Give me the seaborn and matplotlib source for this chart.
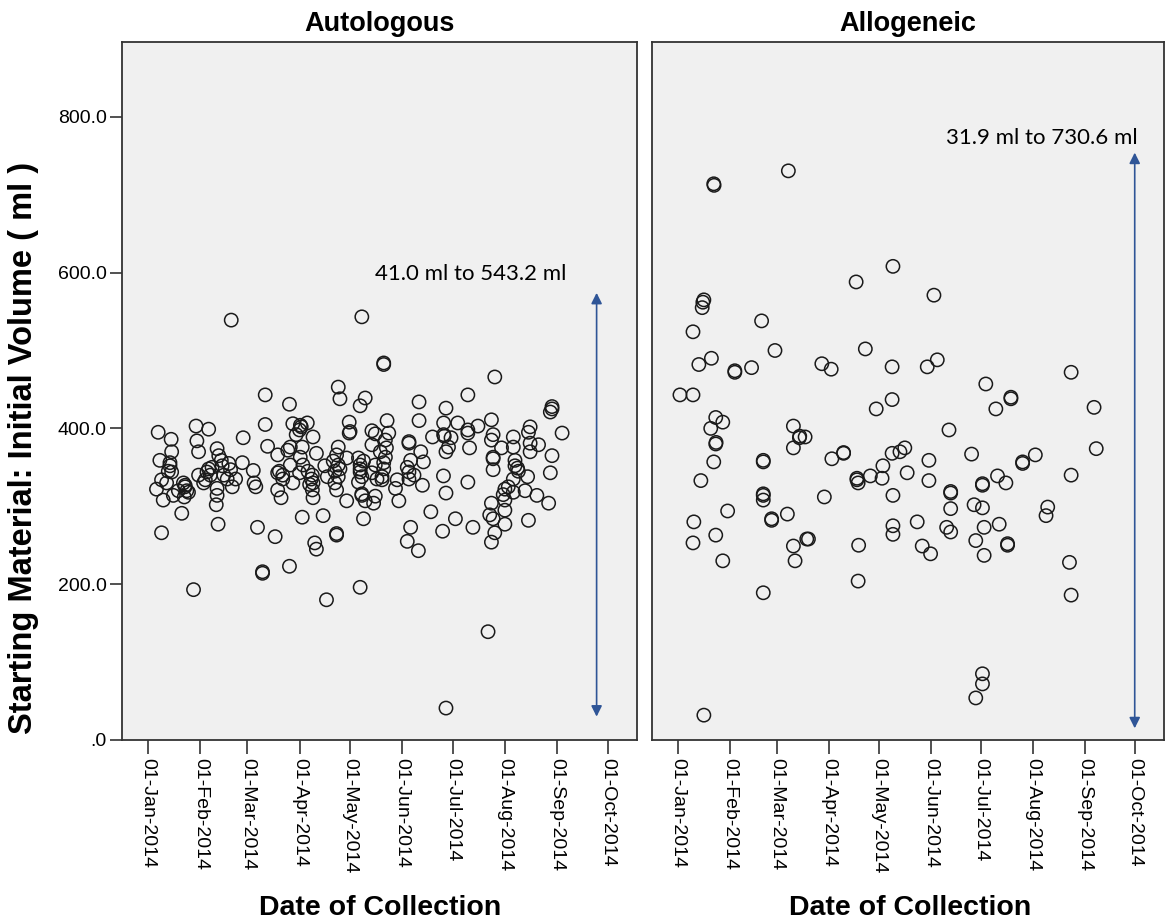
import numpy as np
import pandas as pd
import matplotlib
matplotlib.use("Agg")
import matplotlib.pyplot as plt
import matplotlib.dates as mdates
import seaborn as sns

# ---- data (days after 01-Jan-2014, volume in ml) ----
auto_days = [49.4, 69.6, 84, 6, 28.5, 36, 13.7, 69.6, 56.5, 29, 14, 30, 41, 7, 13, 71, 77, 83, 43.5, 35,
             49, 56, 62.5, 14, 8, 22, 22, 5, 9, 15, 21.5, 34, 41, 50, 41, 63, 64, 77, 80, 77,
             79, 40.5, 20, 8, 41.6, 65, 75.5, 84, 68, 68, 27, 38, 45, 52, 30, 18, 11, 24,
             13, 12, 21, 23, 36, 37, 44, 47, 48, 42, 33,
             127, 140, 140, 113, 114, 129, 126, 161, 161, 142, 86, 90.5, 91, 94.6, 119.5, 119.5, 120, 133, 135, 143,
             98, 169, 155, 155, 84.5, 91.6, 113, 133, 141.6, 162, 90.4, 100, 112, 141, 156, 163.6, 84.5, 92, 105, 113,
             126, 135, 140, 97.6, 90, 106.5, 113, 126, 127, 133, 139, 155, 155, 86, 163, 98, 111, 125, 136, 139,
             148, 147, 97.6, 112, 127, 127, 98, 118, 129, 135, 134, 149, 168, 91.6, 104, 128, 156, 154, 160.6, 112,
             112, 99, 100, 126, 106,
             90, 88, 95, 97, 96, 111, 114, 110, 118, 78, 80,
             126, 128, 125, 138, 140, 141, 154, 158,
             206, 190, 240, 240, 239, 177, 175.6, 184, 196, 204, 190, 190, 175.6, 176, 246, 227, 226, 217, 204, 210,
             217, 227, 232, 227, 191, 178.5, 177, 240, 205, 205, 218, 219.5, 205, 239, 175.5, 217, 225.5, 190, 212, 217,
             224, 231, 177, 238, 204, 212, 212, 203, 205, 212, 226, 182.6, 193, 175, 206, 204, 202, 177,
             218, 220, 214, 211, 205, 180]
auto_vals = [539, 443, 431, 395, 403, 399, 386, 405, 388, 384, 370, 370, 374, 359, 356, 377, 366, 372, 359, 344,
             347, 356, 346, 344, 334, 325, 327, 322, 308, 314, 312, 334, 323, 325, 314, 330, 325, 343, 340, 321,
             311, 302, 291, 266, 277, 273, 261, 223, 214, 216, 193, 350, 340, 335, 340, 320, 330, 318,
             352, 345, 330, 320, 348, 340, 352, 335, 355, 365, 330,
             543.2, 482, 484, 453, 438, 439, 429, 434, 410, 410, 406, 404, 402, 407, 408, 394, 396, 397, 393, 394,
             389, 389, 381, 383, 376, 376, 376, 379, 375, 370, 363, 368, 366, 363, 359, 357, 353, 353, 352, 353,
             353, 353, 356, 340, 343, 338, 338, 344, 338, 343, 338, 344, 335, 330, 327, 330, 330, 331, 335, 334,
             334, 323, 321, 321, 314, 316, 311, 307, 307, 313, 304, 307, 293, 286, 288, 284, 273, 255, 243, 263,
             265, 253, 245, 196, 180,
             398, 392, 345, 335, 328, 345, 348, 358, 362, 345, 335,
             348, 358, 362, 370, 348, 385, 350, 340,
             466, 443, 428, 425, 421, 426, 407, 407, 403, 411, 398, 394, 392, 390, 394, 402, 395, 389, 385, 375,
             376, 381, 379, 370, 375, 376, 370, 365, 363, 361, 359, 349, 347, 343, 339, 335, 338, 331, 322, 318,
             320, 314, 317, 304, 304, 308, 295, 289, 284, 277, 282, 284, 273, 268, 266, 254, 139, 41.0,
             352, 345, 325, 315, 392, 388]

allo_days = [21.4, 21.6, 66, 14.9, 15.5, 14.5, 9, 50, 58, 12.5, 20, 34, 34, 44, 1.2, 9, 22.6, 19.6, 26.8, 22.6,
             22.8, 21.4, 69, 72.6, 72.8, 69, 51, 51, 13.7, 51, 51, 51, 29.7, 56, 56, 65.4, 9.5, 9, 22.6, 26.8,
             77, 69, 70, 51, 15.5,
             128.5, 106.5, 153, 112, 86, 91.6, 128, 149, 155, 128, 118.5, 162, 76, 99, 99, 92, 128, 135.6, 132.7, 150,
             122.5, 137, 150, 107, 107, 107.7, 115, 122, 128.5, 87.5, 163, 163, 163, 128.5, 128.5, 143, 160.6, 163, 78, 108,
             146, 151, 107.7,
             235, 184, 199, 199, 190, 248.7, 175.5, 250, 206, 206, 213.6, 235, 191, 196, 182, 182, 177, 182, 221, 220,
             183, 192, 178, 197, 197, 183, 234, 235, 182, 182, 178]
allo_vals = [714, 712, 730.6, 562, 565, 555, 524, 538, 500, 482, 490, 472, 474, 478, 443, 443, 414, 400, 408, 380,
             382, 357, 403, 388, 390, 375, 357, 359, 333, 314, 316, 308, 294, 282, 284, 290, 280, 253, 263, 230,
             258, 249, 230, 189, 31.9,
             608, 588, 571, 502, 483, 476, 479, 479, 488, 437, 425, 398, 389, 368, 369, 361, 368, 375, 370, 359,
             352, 343, 333, 336, 334, 330, 339, 336, 314, 312, 317, 319, 297, 275, 264, 280, 273, 267, 258, 250,
             249, 239, 204,
             472, 457, 438, 440, 425, 427, 367, 374, 357, 355, 366, 340, 339, 330, 327, 329, 302, 298, 299, 288,
             273, 277, 256, 252, 250, 237, 228, 186, 85, 72, 54]

panel_titles = ["Autologous", "Allogeneic"]
range_texts = ["41.0 ml to 543.2 ml", "31.9 ml to 730.6 ml"]
tick_dates = ["2014-01-01", "2014-02-01", "2014-03-01", "2014-04-01", "2014-05-01",
              "2014-06-01", "2014-07-01", "2014-08-01", "2014-09-01", "2014-10-01"]
y_ticks = [0, 200, 400, 600, 800]
y_tick_labels = [".0", "200.0", "400.0", "600.0", "800.0"]

base = pd.Timestamp("2014-01-01")


def to_dates(days):
    return base + pd.to_timedelta(np.asarray(days, dtype=float), unit="D")


def dnum(day):
    return mdates.date2num(base + pd.Timedelta(days=day))


df_auto = pd.DataFrame({"date": to_dates(auto_days), "vol": auto_vals})
df_allo = pd.DataFrame({"date": to_dates(allo_days), "vol": allo_vals})

W, H = 1166, 924
fig = plt.figure(figsize=(W / 100, H / 100), dpi=100)
fig.patch.set_facecolor("white")

ax1 = fig.add_axes([122 / W, 1 - 740 / H, (637 - 122) / W, (740 - 42) / H])
ax2 = fig.add_axes([652 / W, 1 - 740 / H, (1164 - 652) / W, (740 - 42) / H])

arrow_color = "#2F5597"
tick_font = "Liberation Sans"

for ax, df, title in [(ax1, df_auto, panel_titles[0]), (ax2, df_allo, panel_titles[1])]:
    ax.set_facecolor("#F0F0F0")
    sns.scatterplot(data=df, x="date", y="vol", ax=ax, marker="o", s=92,
                    facecolors="none", edgecolor="#1a1a1a", linewidth=1.1, legend=False)
    ax.set_xlim(dnum(-15.5), dnum(290.5))
    ax.set_ylim(0, 896)
    ax.set_xticks([mdates.date2num(pd.Timestamp(d)) for d in tick_dates])
    ax.xaxis.set_major_formatter(mdates.DateFormatter("%d-%b-%Y"))
    for lab in ax.get_xticklabels():
        lab.set_rotation(270)
        lab.set_ha("center")
        lab.set_va("top")
        lab.set_fontsize(14)
        lab.set_family(tick_font)
    ax.tick_params(axis="x", direction="out", length=10, width=1.2, color="#333333", pad=3)
    ax.set_xlabel("")
    ax.set_ylabel("")
    for sp in ax.spines.values():
        sp.set_color("#333333")
        sp.set_linewidth(1.3)
    ax.set_title(title, fontsize=19.5, fontweight="bold", family="Liberation Sans", pad=8)

ax1.set_yticks(y_ticks)
ax1.set_yticklabels(y_tick_labels, fontsize=14, family=tick_font)
ax1.tick_params(axis="y", direction="out", length=9, width=1.2, color="#333333", pad=2)
ax2.set_yticks([])

# range annotations
ax1.annotate("", xy=(dnum(266.5), 30), xytext=(dnum(266.5), 574),
             arrowprops=dict(arrowstyle="<|-|>", color=arrow_color, lw=1.2, mutation_scale=16,
                             shrinkA=0, shrinkB=0))
ax1.text(dnum(191.5), 598, range_texts[0], ha="center", va="center", fontsize=16, family="Lato")

ax2.annotate("", xy=(dnum(273), 15), xytext=(dnum(273), 754),
             arrowprops=dict(arrowstyle="<|-|>", color=arrow_color, lw=1.2, mutation_scale=16,
                             shrinkA=0, shrinkB=0))
ax2.text(dnum(274.5), 773, range_texts[1], ha="right", va="center", fontsize=16, family="Lato")

fig.text(380 / W, 1 - 908 / H, "Date of Collection", ha="center", va="center",
         fontsize=20.5, fontweight="bold", family="Liberation Sans")
fig.text(910 / W, 1 - 908 / H, "Date of Collection", ha="center", va="center",
         fontsize=20.5, fontweight="bold", family="Liberation Sans")
fig.text(24 / W, 1 - 448 / H, "Starting Material: Initial Volume ( ml )", ha="center", va="center",
         rotation=90, fontsize=23.5, fontweight="bold", family="Liberation Sans")

fig.savefig("out.png", dpi=100, facecolor="white")
